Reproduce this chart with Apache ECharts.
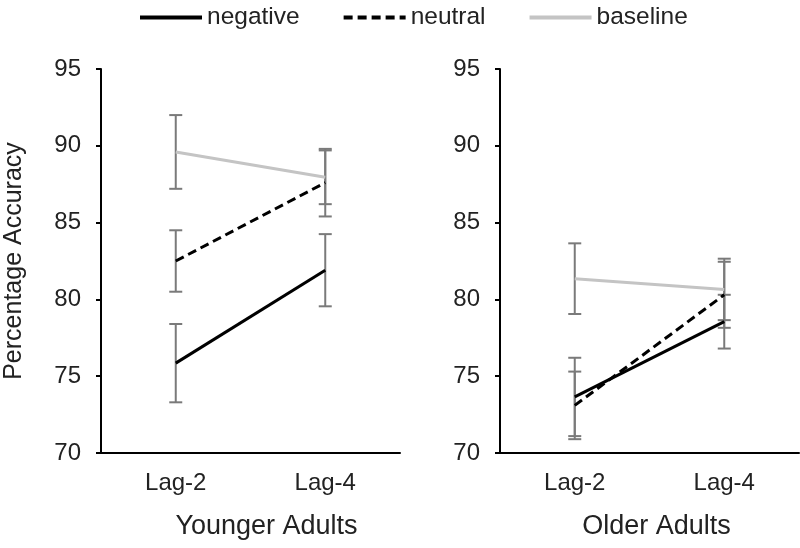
<!DOCTYPE html>
<html><head><meta charset="utf-8">
<script src="https://cdn.jsdelivr.net/npm/echarts@6/dist/echarts.min.js"></script>
<style>html,body{margin:0;padding:0;background:#fff}#c{width:800px;height:548px}</style>
</head><body><div id="c"></div>
<script>
const categories = ['Lag-2', 'Lag-4'];
const groups = ['Younger Adults', 'Older Adults'];
const seriesNames = ['negative', 'neutral', 'baseline'];
// values per group: [Lag-2, Lag-4]
const youngNegative = [75.85, 81.9];
const youngNeutral = [82.5, 87.6];
const youngBaseline = [89.6, 87.95];
const oldNegative = [73.65, 78.55];
const oldNeutral = [73.1, 80.3];
const oldBaseline = [81.35, 80.65];
// error half-widths
const youngNegativeErr = [2.55, 2.35];
const youngNeutralErr = [2.0, 2.2];
const youngBaselineErr = [2.4, 1.75];
const oldNegativeErr = [2.55, 1.75];
const oldNeutralErr = [2.2, 2.15];
const oldBaselineErr = [2.3, 2.0];
const yTicks = [70, 75, 80, 85, 90, 95];

const FONT = 'Liberation Sans, Arial, sans-serif';
const styles = {
  negative: {color: '#000', type: 'solid'},
  neutral: {color: '#000', type: [9, 5]},
  baseline: {color: '#c4c4c4', type: 'solid'}
};
const chart = echarts.init(document.getElementById('c'), null, {renderer: 'canvas'});

function errData(vals, errs) {
  return vals.map((v, i) => [i, v - errs[i], v + errs[i]]);
}
function errSeries(idx, vals, errs) {
  return {
    type: 'custom', xAxisIndex: idx, yAxisIndex: idx, z: 1, silent: true,
    data: errData(vals, errs),
    encode: {x: 0, y: [1, 2]},
    renderItem: function (params, api) {
      const x = api.value(0);
      const lo = api.coord([x, api.value(1)]);
      const hi = api.coord([x, api.value(2)]);
      const hw = 6.5;
      const st = {stroke: '#7a7a7a', lineWidth: 2};
      return {type: 'group', children: [
        {type: 'line', shape: {x1: lo[0], y1: lo[1], x2: hi[0], y2: hi[1]}, style: st},
        {type: 'line', shape: {x1: lo[0] - hw, y1: lo[1], x2: lo[0] + hw, y2: lo[1]}, style: st},
        {type: 'line', shape: {x1: hi[0] - hw, y1: hi[1], x2: hi[0] + hw, y2: hi[1]}, style: st}
      ]};
    }
  };
}
function lineSeries(idx, name, vals) {
  return {
    type: 'line', name: name, xAxisIndex: idx, yAxisIndex: idx, z: 3,
    data: vals, symbol: 'none', silent: true,
    lineStyle: {color: styles[name].color, width: 3, type: styles[name].type},
    itemStyle: {color: styles[name].color}
  };
}
const namePad = [[0, 0, 0, 32], [0, 0, 0, 14]];
function xAxis(idx) {
  return {
    type: 'category', gridIndex: idx, data: categories, boundaryGap: true,
    name: groups[idx], nameLocation: 'middle', nameGap: 60,
    nameTextStyle: {fontFamily: FONT, fontSize: 27, color: '#222', padding: namePad[idx]},
    axisLine: {lineStyle: {color: '#000', width: 2}},
    axisTick: {show: false},
    axisLabel: {fontFamily: FONT, fontSize: 24, color: '#222', margin: 18}
  };
}
function yAxis(idx) {
  return {
    type: 'value', gridIndex: idx, min: yTicks[0], max: yTicks[yTicks.length - 1], interval: 5,
    name: idx === 0 ? 'Percentage Accuracy' : '', nameLocation: 'middle', nameGap: 74,
    nameTextStyle: {fontFamily: FONT, fontSize: 25, color: '#222'},
    axisLine: {show: true, lineStyle: {color: '#000', width: 2}},
    axisTick: {show: true, length: 5, lineStyle: {color: '#000', width: 2}},
    splitLine: {show: false},
    axisLabel: {fontFamily: FONT, fontSize: 24, color: '#222', margin: 20}
  };
}
chart.setOption({
  animation: false,
  legend: {
    top: 0, left: 133, itemGap: 42, itemWidth: 62, itemHeight: 14,
    data: seriesNames,
    itemStyle: {opacity: 0},
    lineStyle: {width: 4},
    textStyle: {fontFamily: FONT, fontSize: 24.5, color: '#222'}
  },
  grid: [
    {left: 101, width: 299, top: 69, bottom: 95, outerBoundsMode: 'none', containLabel: false},
    {left: 500, width: 299, top: 69, bottom: 95, outerBoundsMode: 'none', containLabel: false}
  ],
  xAxis: [xAxis(0), xAxis(1)],
  yAxis: [yAxis(0), yAxis(1)],
  series: [
    errSeries(0, youngNegative, youngNegativeErr),
    errSeries(0, youngNeutral, youngNeutralErr),
    errSeries(0, youngBaseline, youngBaselineErr),
    errSeries(1, oldNegative, oldNegativeErr),
    errSeries(1, oldNeutral, oldNeutralErr),
    errSeries(1, oldBaseline, oldBaselineErr),
    lineSeries(0, 'negative', youngNegative),
    lineSeries(0, 'neutral', youngNeutral),
    lineSeries(0, 'baseline', youngBaseline),
    lineSeries(1, 'negative', oldNegative),
    lineSeries(1, 'neutral', oldNeutral),
    lineSeries(1, 'baseline', oldBaseline)
  ]
});
</script></body></html>
